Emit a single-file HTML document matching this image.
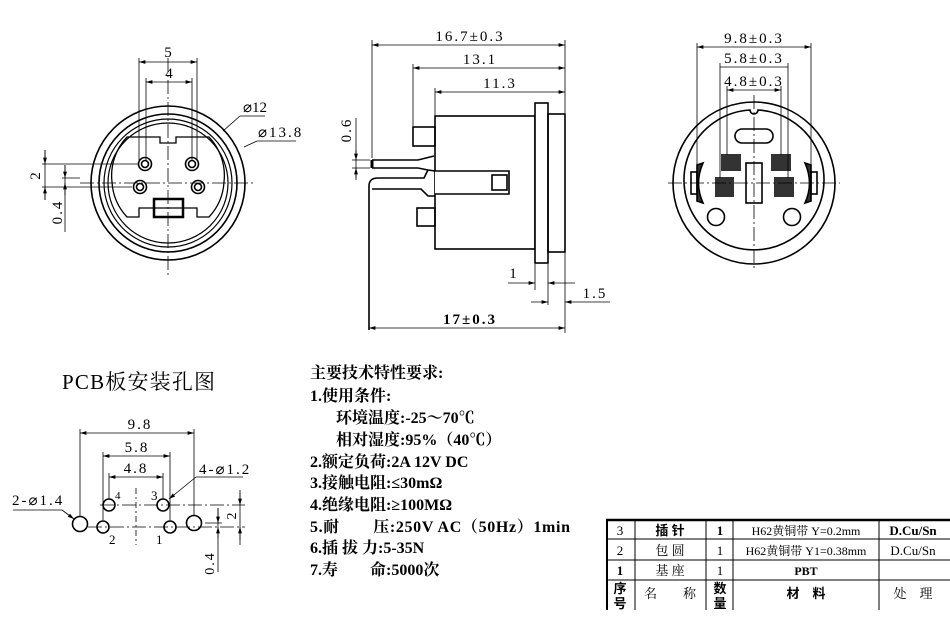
<!DOCTYPE html>
<html><head><meta charset="utf-8"><style>
html,body{margin:0;padding:0;background:#fff}
svg{display:block}
text{font-family:"Liberation Serif","Noto Serif CJK SC",serif;fill:#000}
.d{letter-spacing:2px}
.b{font-family:"Liberation Serif","Noto Sans CJK SC",sans-serif;font-weight:bold}
</style></head><body>
<svg width="950" height="624" viewBox="0 0 950 624" xmlns="http://www.w3.org/2000/svg">
<defs>
<marker id="a" viewBox="0 0 10 6" refX="10" refY="3" markerWidth="8" markerHeight="5" orient="auto-start-reverse"><path d="M0,0L10,3L0,6z" fill="#000"/></marker>
</defs>
<g stroke="#000" fill="none" stroke-width="1.6">
<circle cx="168" cy="183" r="77"/>
<circle cx="168" cy="183" r="69"/>
<circle cx="168" cy="183" r="64" stroke-width="1.2"/>
<circle cx="168" cy="183" r="60" stroke-width="1.2"/>
<path d="M127,137 L160,137 L160,143 L176,143 L176,137 L209,137 A56,56 0 0 1 224,182 A56,56 0 0 1 209,217 L197,217 L197,208 L139,208 L139,217 L127,217 A56,56 0 0 1 112,182 A56,56 0 0 1 127,137 Z" stroke-width="1.3"/>
<circle cx="145" cy="164" r="6.5"/><circle cx="145" cy="164" r="3.5"/>
<circle cx="192" cy="164" r="6.5"/><circle cx="192" cy="164" r="3.5"/>
<circle cx="140" cy="187" r="6.5"/><circle cx="140" cy="187" r="3.5"/>
<circle cx="198" cy="187" r="6.5"/><circle cx="198" cy="187" r="3.5"/>
<rect x="154" y="199" width="29" height="18" stroke-width="2.5"/>
</g>
<g stroke="#000" stroke-width="0.8" fill="none">
<line x1="80" y1="183" x2="255" y2="183" stroke-dasharray="14,3,2,3"/>
<line x1="168" y1="58" x2="168" y2="278" stroke-dasharray="14,3,2,3"/>
<line x1="139" y1="58" x2="139" y2="160"/><line x1="197" y1="58" x2="197" y2="160"/>
<line x1="146" y1="78" x2="146" y2="160"/><line x1="192" y1="78" x2="192" y2="160"/>
<line x1="139" y1="62" x2="197" y2="62" marker-start="url(#a)" marker-end="url(#a)"/>
<line x1="146" y1="82" x2="192" y2="82" marker-start="url(#a)" marker-end="url(#a)"/>
<line x1="42" y1="164" x2="138" y2="164"/><line x1="42" y1="187" x2="132" y2="187"/>
<line x1="62" y1="178" x2="80" y2="178"/>
<line x1="45" y1="150" x2="45" y2="200"/>
<line x1="45" y1="150" x2="45" y2="164" marker-end="url(#a)"/><line x1="45" y1="200" x2="45" y2="187" marker-end="url(#a)"/>
<line x1="65" y1="165" x2="65" y2="232"/>
<line x1="65" y1="165" x2="65" y2="178" marker-end="url(#a)"/><line x1="65" y1="195" x2="65" y2="183" marker-end="url(#a)"/>
<line x1="223" y1="131" x2="240" y2="116" /><line x1="240" y1="116" x2="265" y2="116"/>
<line x1="244" y1="147" x2="257" y2="141"/><line x1="257" y1="141" x2="296" y2="141"/>
</g>
<text x="168" y="57" font-size="15" text-anchor="middle">5</text>
<text x="169" y="78" font-size="15" text-anchor="middle">4</text>
<text x="243" y="112" font-size="15">⌀12</text>
<text x="258" y="137" font-size="15" class="d">⌀13.8</text>
<text transform="translate(40,176) rotate(-90)" font-size="15" text-anchor="middle">2</text>
<text transform="translate(62,212) rotate(-90)" font-size="15" text-anchor="middle" class="d">0.4</text>

<g stroke="#000" fill="none" stroke-width="1.6">
<rect x="435" y="116" width="100" height="133"/>
<rect x="535" y="103" width="13" height="160" fill="#fff"/>
<rect x="548" y="114" width="17" height="138"/>
<rect x="413" y="127" width="22" height="19"/>
<rect x="417" y="208" width="18" height="18"/>
<path d="M372,160 L418,160 L434,156 M372,168 L418,168 L428,170 L435,171"/>
<path d="M435,171 L509,171 L509,194 L435,194" fill="#fff"/>
<path d="M428,170 L424,178 L378,178 Q369,178 369,186 L369,330"/>
<path d="M372,189 L421,189 L428,196 L435,196"/>
<rect x="492" y="175" width="15" height="15"/>
<line x1="372" y1="160" x2="372" y2="168" stroke-width="3"/>
</g>
<g stroke="#000" stroke-width="0.8" fill="none">
<line x1="372" y1="40" x2="372" y2="158"/>
<line x1="413" y1="64" x2="413" y2="126"/>
<line x1="435" y1="88" x2="435" y2="115"/>
<line x1="565" y1="40" x2="565" y2="113"/>
<line x1="372" y1="45" x2="565" y2="45" marker-start="url(#a)" marker-end="url(#a)"/>
<line x1="413" y1="68" x2="565" y2="68" marker-start="url(#a)" marker-end="url(#a)"/>
<line x1="435" y1="92" x2="565" y2="92" marker-start="url(#a)" marker-end="url(#a)"/>
<line x1="352" y1="160" x2="370" y2="160"/><line x1="352" y1="168" x2="370" y2="168"/>
<line x1="356" y1="118" x2="356" y2="180"/>
<line x1="356" y1="150" x2="356" y2="160" marker-end="url(#a)"/><line x1="356" y1="178" x2="356" y2="168" marker-end="url(#a)"/>
<line x1="535" y1="264" x2="535" y2="290"/><line x1="548" y1="264" x2="548" y2="305"/>
<line x1="565" y1="253" x2="565" y2="333"/>
<line x1="508" y1="283" x2="535" y2="283" marker-end="url(#a)"/><line x1="575" y1="283" x2="548" y2="283" marker-end="url(#a)"/>
<line x1="531" y1="302" x2="548" y2="302" marker-end="url(#a)"/><line x1="610" y1="302" x2="565" y2="302" marker-end="url(#a)"/>
<line x1="369" y1="328" x2="565" y2="328" marker-start="url(#a)" marker-end="url(#a)"/>
</g>
<text x="470" y="41" font-size="15" text-anchor="middle" class="d">16.7±0.3</text>
<text x="480" y="64" font-size="15" text-anchor="middle" class="d">13.1</text>
<text x="500" y="88" font-size="15" text-anchor="middle" class="d">11.3</text>
<text transform="translate(351,130) rotate(-90)" font-size="15" text-anchor="middle" class="d">0.6</text>
<text x="513" y="278" font-size="15" text-anchor="middle">1</text>
<text x="595" y="298" font-size="15" text-anchor="middle" class="d">1.5</text>
<text x="470" y="324" font-size="15" text-anchor="middle" class="b d">17±0.3</text>

<g stroke="#000" fill="none" stroke-width="1.6">
<circle cx="754" cy="183" r="81"/>
<path d="M750,110 A4,4 0 0 0 758,110 A70,70 0 1 1 750,110 Z"/>
<rect x="735" y="129" width="38" height="14" rx="7"/>
<rect x="746" y="163" width="16" height="40"/>
<circle cx="716" cy="217" r="8.5"/>
<circle cx="792" cy="217" r="8.5"/>
<path d="M697,165 L703,163 Q694,183 703,203 L697,201 Z" fill="#333"/>
<rect x="691" y="172" width="6" height="22"/>
<path d="M811,165 L805,163 Q814,183 805,203 L811,201 Z" fill="#333"/>
<rect x="811" y="172" width="6" height="22"/>
</g>
<g fill="#333">
<rect x="721" y="154" width="20" height="17"/>
<rect x="771" y="154" width="20" height="17"/>
<rect x="715" y="177" width="19" height="20"/>
<rect x="774" y="177" width="20" height="20"/>
</g>
<g stroke="#000" stroke-width="0.8" fill="none">
<line x1="668" y1="183" x2="840" y2="183" stroke-dasharray="14,3,2,3"/>
<line x1="754" y1="95" x2="754" y2="270" stroke-dasharray="14,3,2,3"/>
<line x1="697" y1="43" x2="697" y2="170"/><line x1="811" y1="43" x2="811" y2="170"/>
<line x1="720" y1="63" x2="720" y2="178"/><line x1="788" y1="63" x2="788" y2="178"/>
<line x1="727" y1="86" x2="727" y2="155"/><line x1="781" y1="86" x2="781" y2="155"/>
<line x1="697" y1="47" x2="811" y2="47" marker-start="url(#a)" marker-end="url(#a)"/>
<line x1="720" y1="67" x2="788" y2="67"/>
<line x1="727" y1="90" x2="781" y2="90" marker-start="url(#a)" marker-end="url(#a)"/>
</g>
<text x="754" y="43" font-size="15" text-anchor="middle" class="d">9.8±0.3</text>
<text x="754" y="63" font-size="15" text-anchor="middle" class="d">5.8±0.3</text>
<text x="754" y="86" font-size="15" text-anchor="middle" class="d">4.8±0.3</text>

<text x="62" y="389" font-size="21" textLength="153">PCB板安装孔图</text>
<g stroke="#000" fill="none" stroke-width="1.6">
<circle cx="109" cy="505" r="6"/><circle cx="163" cy="505" r="6"/>
<circle cx="103" cy="527" r="6"/><circle cx="170" cy="527" r="6"/>
<circle cx="80" cy="524" r="7.5"/><circle cx="194" cy="523" r="7.5"/>
</g>
<g stroke="#000" stroke-width="0.8" fill="none">
<line x1="100" y1="505" x2="245" y2="505" stroke-dasharray="14,3,2,3"/>
<line x1="88" y1="527" x2="245" y2="527" stroke-dasharray="14,3,2,3"/>
<line x1="136" y1="488" x2="136" y2="545" stroke-dasharray="6,3,2,3"/>
<line x1="80" y1="429" x2="80" y2="516"/><line x1="194" y1="429" x2="194" y2="515"/>
<line x1="103" y1="452" x2="103" y2="520"/><line x1="170" y1="452" x2="170" y2="520"/>
<line x1="109" y1="473" x2="109" y2="499"/><line x1="163" y1="473" x2="163" y2="499"/>
<line x1="80" y1="433" x2="194" y2="433" marker-start="url(#a)" marker-end="url(#a)"/>
<line x1="103" y1="456" x2="170" y2="456" marker-start="url(#a)" marker-end="url(#a)"/>
<line x1="109" y1="477" x2="163" y2="477" marker-start="url(#a)" marker-end="url(#a)"/>
<line x1="240" y1="490" x2="240" y2="545"/>
<line x1="240" y1="493" x2="240" y2="505" marker-end="url(#a)"/><line x1="240" y1="540" x2="240" y2="527" marker-end="url(#a)"/>
<line x1="205" y1="523" x2="222" y2="523"/>
<line x1="218" y1="508" x2="218" y2="572"/>
<line x1="218" y1="508" x2="218" y2="523" marker-end="url(#a)"/><line x1="218" y1="538" x2="218" y2="527" marker-end="url(#a)"/>
<line x1="13" y1="510" x2="62" y2="510"/><line x1="62" y1="510" x2="74" y2="519" marker-end="url(#a)"/>
<line x1="243" y1="477" x2="196" y2="477"/><line x1="196" y1="477" x2="169" y2="499" marker-end="url(#a)"/>
</g>
<text x="140" y="429" font-size="15" text-anchor="middle" class="d">9.8</text>
<text x="137" y="452" font-size="15" text-anchor="middle" class="d">5.8</text>
<text x="136" y="473" font-size="15" text-anchor="middle" class="d">4.8</text>
<text x="115" y="499" font-size="11">4</text>
<text x="151" y="500" font-size="13">3</text>
<text x="109" y="544" font-size="13">2</text>
<text x="156" y="544" font-size="13">1</text>
<text x="12" y="505" font-size="15" class="d">2-⌀1.4</text>
<text x="199" y="474" font-size="15" class="d">4-⌀1.2</text>
<text transform="translate(236,516) rotate(-90)" font-size="14" text-anchor="middle">2</text>
<text transform="translate(214,563) rotate(-90)" font-size="14" text-anchor="middle" class="d">0.4</text>

<g class="b" font-size="16">
<text x="310" y="378">主要技术特性要求:</text>
<text x="310" y="401">1.使用条件:</text>
<text x="336" y="423">环境温度:-25～70℃</text>
<text x="336" y="445">相对湿度:95%（40℃）</text>
<text x="310" y="467">2.额定负荷:2A 12V DC</text>
<text x="310" y="488">3.接触电阻:≤30mΩ</text>
<text x="310" y="510">4.绝缘电阻:≥100MΩ</text>
<text x="310" y="532" textLength="260">5.耐　　压:250V AC（50Hz）1min</text>
<text x="310" y="553">6.插 拔 力:5-35N</text>
<text x="310" y="575">7.寿　　命:5000次</text>
</g>

<g stroke="#000" fill="none" stroke-width="1">
<line x1="606" y1="520" x2="950" y2="520" stroke-width="2.5"/>
<line x1="606" y1="539" x2="950" y2="539"/>
<line x1="606" y1="560" x2="950" y2="560"/>
<line x1="606" y1="580" x2="950" y2="580"/>
<line x1="607" y1="520" x2="607" y2="610" stroke-width="2"/>
<line x1="635" y1="520" x2="635" y2="610"/>
<line x1="706" y1="520" x2="706" y2="610"/>
<line x1="733" y1="520" x2="733" y2="610"/>
<line x1="879" y1="520" x2="879" y2="610"/>
</g>
<g font-size="13" text-anchor="middle">
<text x="620" y="535">3</text><text x="670" y="535" class="b">插 针</text><text x="720" y="535" class="b">1</text>
<text x="806" y="535" font-size="12">H62黄铜带 Y=0.2mm</text><text x="913" y="535" class="b">D.Cu/Sn</text>
<text x="620" y="555">2</text><text x="670" y="555">包 圆</text><text x="720" y="555">1</text>
<text x="806" y="555" font-size="12">H62黄铜带 Y1=0.38mm</text><text x="913" y="555">D.Cu/Sn</text>
<text x="620" y="575" class="b">1</text><text x="670" y="575">基 座</text><text x="720" y="575">1</text>
<text x="806" y="575" class="b" font-size="12">PBT</text>
<text x="620" y="593" class="b">序</text><text x="620" y="608" class="b">号</text>
<text x="670" y="598">名　　称</text>
<text x="720" y="593" class="b">数</text><text x="720" y="608" class="b">量</text>
<text x="806" y="598" class="b">材　料</text>
<text x="913" y="598">处　理</text>
</g>
</svg>
</body></html>
